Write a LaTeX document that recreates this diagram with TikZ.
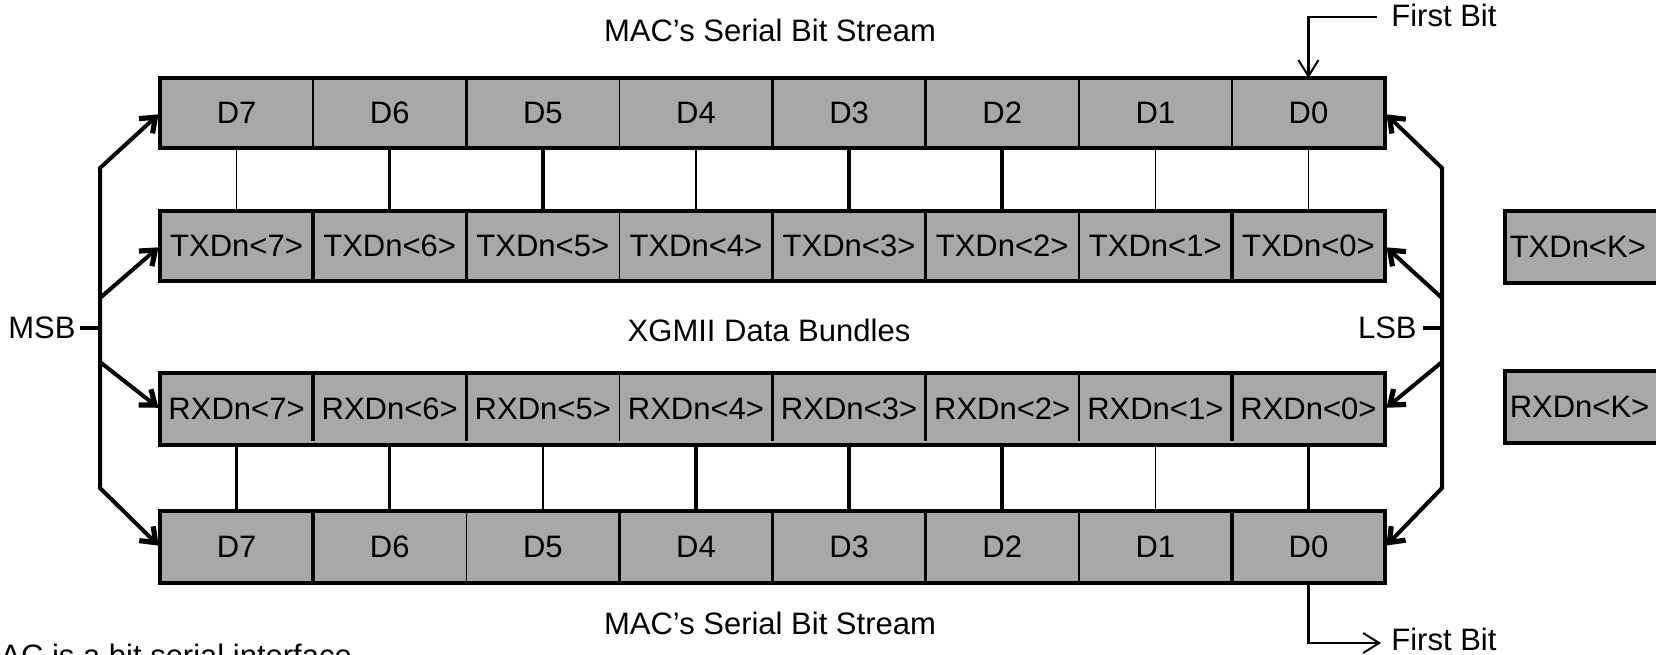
\documentclass[tikz,border=0pt]{standalone}
\usepackage{fontspec}
\setmainfont{Liberation Sans}
\usetikzlibrary{arrows.meta}
\definecolor{cellgray}{RGB}{168,168,168}

\begin{document}
\begin{tikzpicture}[x=0.5pt,y=-0.5pt,
  font=\fontsize{15.5}{18}\selectfont,
  cell/.style={fill=cellgray, minimum width=76.5625pt, minimum height=35pt,
    inner sep=0pt, outer sep=0pt, anchor=north west},
  frame/.style={line width=2pt},
  thinln/.style={line width=0.75pt},
  thickln/.style={line width=1.75pt},
  trunk/.style={line width=2pt, line join=miter},
  barb/.tip={Straight Barb[length=6.5pt,width=10pt,line width=2.6pt]},
  bitarrow/.style={trunk, -barb, shorten >=1pt},
  firstbit/.style={line width=1.4pt, -{Straight Barb[length=8pt,width=10pt,line width=1pt]}},
  kbox/.style={fill=cellgray, draw, line width=1.75pt, anchor=west, minimum height=36pt,
    text width=85pt, align=left, inner xsep=2.5pt, inner ysep=0pt},
]
\useasboundingbox (0,0) rectangle (1656,654);
\clip (0,0) rectangle (1656,654);
\fill[white] (0,0) rectangle (1656,654);

% the four rows of cells: MAC bits, TXD lanes, RXD lanes, MAC bits
\foreach \i in {0,...,7} {
  \pgfmathtruncatemacro\k{7-\i}
  \node[cell] (a\k) at (160+\i*153.125, 78) {D\k};
  \node[cell] (b\k) at (160+\i*153.125, 211) {TXDn<\k>};
  \node[cell, minimum height=36pt] (c\k) at (160+\i*153.125, 373) {RXDn<\k>};
  \node[cell, minimum height=36pt] (d\k) at (160+\i*153.125, 511) {D\k};
}

% cell dividers
\foreach \k/\s in {7/thinln,6/thickln,5/thinln,4/thickln,3/thickln,2/thinln,1/thinln}
  \draw[\s] (a\k.north east) -- (a\k.south east);
\foreach \k/\s in {7/thickln,6/thickln,5/thinln,4/thickln,3/thickln,2/thinln,1/thickln}
  \draw[\s] (b\k.north east) -- (b\k.south east);
\foreach \k/\s in {7/thickln,6/thickln,5/thinln,4/thickln,3/thickln,2/thinln,1/thickln}
  \draw[\s, shorten >=2pt] (c\k.north east) -- (c\k.south east);
\foreach \k/\s in {7/thickln,6/thinln,5/thickln,4/thickln,3/thickln,2/thinln,1/thickln}
  \draw[\s] (d\k.north east) -- (d\k.south east);

% row frames
\foreach \r in {a,b,c,d}
  \draw[frame] (\r7.north west) rectangle (\r0.south east);

% bit-to-lane links
\foreach \k/\s in {7/thinln,6/thickln,5/thickln,4/thinln,3/thickln,2/thickln,1/thinln,0/thinln}
  \draw[\s] (a\k.south) -- (b\k.north);
\foreach \k/\s in {7/thickln,6/thickln,5/thinln,4/thickln,3/thickln,2/thickln,1/thinln,0/thickln}
  \draw[\s] (c\k.south) -- (d\k.north);

% control lanes
\node[kbox] (tk) at (1503,247) {TXDn<K>};
\node[kbox] (rk) at (1503,407) {RXDn<K>};

% titles
\node (ttop) at (770,30) {MAC’s Serial Bit Stream};
\node (tbot) at (770,623) {MAC’s Serial Bit Stream};
\node (xg) at (769,330) {XGMII Data Bundles};

% MSB fan-out
\node[anchor=east, inner sep=2pt] (msb) at (80,328) {MSB};
\coordinate (m1) at (100,168);
\coordinate (m2) at (100,298);
\coordinate (mj) at (100,328);
\coordinate (m3) at (100,362);
\coordinate (m4) at (100,488);
\draw[trunk] (msb.east) -- (mj);
\draw[trunk, barb-barb, shorten <=1pt, shorten >=1pt]
  (a7.west) -- (m1) -- (m4) -- (d7.west);
\draw[bitarrow] (m2) -- (b7.west);
\draw[bitarrow] (m3) -- (c7.west);

% LSB fan-out
\node[anchor=east, inner sep=3pt] (lsb) at (1423,328) {LSB};
\coordinate (l1) at (1442,168);
\coordinate (l2) at (1442,298);
\coordinate (lj) at (1442,328);
\coordinate (l3) at (1442,362);
\coordinate (l4) at (1442,488);
\draw[trunk] (lsb.east) -- (lj);
\draw[trunk, barb-barb, shorten <=1pt, shorten >=1pt]
  (a0.east) -- (l1) -- (l4) -- (d0.east);
\draw[bitarrow] (l2) -- (b0.east);
\draw[bitarrow] (l3) -- (c0.east);

% first bit markers
\node[anchor=west, inner sep=0pt] (fbt) at (1391,15) {First Bit};
\coordinate (fbts) at (1377,17);
\draw[firstbit] (fbts) -| (a0.north);
\node[anchor=west, inner sep=0pt] (fbb) at (1391,639) {First Bit};
\coordinate (fbbe) at (1381,643);
\draw[firstbit] (d0.south) |- (fbbe);

% footnote line
\node[anchor=north west, inner sep=0pt] (note) at (0,644) {AC is a bit serial interface};
\end{tikzpicture}
\end{document}
